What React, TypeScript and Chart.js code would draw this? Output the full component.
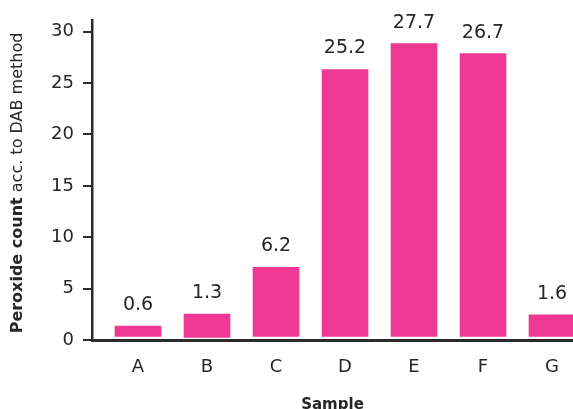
import React, { useEffect, useRef } from "react";
import { Chart, registerables } from "chart.js";

Chart.register(...registerables);

const categories = ["A", "B", "C", "D", "E", "F", "G"];
const barBases = [0.35, 0.25, 0.35, 0.35, 0.35, 0.35, 0.35];
const barTops = [1.35, 2.52, 7.06, 26.32, 28.84, 27.87, 2.45];
const valueLabels = ["0.6", "1.3", "6.2", "25.2", "27.7", "26.7", "1.6"];
const yTicks = [0, 5, 10, 15, 20, 25, 30];

const FONT = "'DejaVu Sans', Verdana, sans-serif";
const TEXT = "#262626";
const AXIS = "#2b2b2b";
const BAR = "#ee3893";

const labelPlugin = {
  id: "customText",
  afterDatasetsDraw(chart: any) {
    const ctx = chart.ctx;
    const meta = chart.getDatasetMeta(0);
    ctx.save();
    ctx.fillStyle = TEXT;
    ctx.font = `19px ${FONT}`;
    ctx.textAlign = "center";
    ctx.textBaseline = "middle";
    meta.data.forEach((el: any, i: number) => {
      ctx.fillText(valueLabels[i], el.x, el.y - 21);
    });
    ctx.restore();
  },
  afterDraw(chart: any) {
    const ctx = chart.ctx;
    ctx.save();
    ctx.fillStyle = TEXT;
    const bold = "Peroxide count";
    const normal = " acc. to DAB method";
    const fBold = `bold 16px ${FONT}`;
    const fNorm = `16px ${FONT}`;
    ctx.font = fBold;
    const wB = ctx.measureText(bold).width;
    ctx.font = fNorm;
    const wN = ctx.measureText(normal).width;
    const total = wB + wN;
    const cy = 183;
    ctx.translate(18, cy);
    ctx.rotate(-Math.PI / 2);
    ctx.textBaseline = "middle";
    ctx.textAlign = "left";
    ctx.font = fBold;
    ctx.fillText(bold, -total / 2, 0);
    ctx.font = fNorm;
    ctx.fillText(normal, -total / 2 + wB, 0);
    ctx.restore();
    ctx.save();
    ctx.fillStyle = TEXT;
    ctx.font = `bold 15px ${FONT}`;
    ctx.textAlign = "center";
    ctx.textBaseline = "alphabetic";
    const area = chart.chartArea;
    ctx.fillText("Sample", (area.left + area.right) / 2, 409);
    ctx.restore();
  },
};

export default function App() {
  const ref = useRef<HTMLCanvasElement | null>(null);
  useEffect(() => {
    if (!ref.current) return;
    const chart = new Chart(ref.current, {
      type: "bar",
      data: {
        datasets: [
          {
            data: categories.map((_, i) => ({ x: i, y: [barBases[i], barTops[i]] })) as any,
            backgroundColor: BAR,
            borderWidth: 0,
            barThickness: 46,
          },
        ],
      },
      options: {
        responsive: false,
        animation: false,
        devicePixelRatio: 1,
        layout: { padding: { top: 18, left: 0, right: 0, bottom: 0 } },
        plugins: { legend: { display: false }, tooltip: { enabled: false } },
        scales: {
          x: {
            type: "linear",
            offset: false,
            min: -0.667,
            max: 6.304,
            afterBuildTicks: (scale: any) => {
              scale.ticks = categories.map((_, i) => ({ value: i }));
            },
            afterFit: (scale: any) => {
              scale.height = 69;
              scale.paddingLeft = 0;
              scale.paddingRight = 0;
            },
            grid: { display: true, offset: false, drawOnChartArea: false, drawTicks: false },
            border: { display: true, color: AXIS, width: 3 },
            ticks: {
              padding: 17,
              color: TEXT,
              font: { family: FONT, size: 18 },
              maxRotation: 0,
              autoSkip: false,
              callback: (v: any) => categories[Math.round(Number(v))] ?? "",
            },
          },
          y: {
            type: "linear",
            min: 0,
            max: 31.16,
            afterBuildTicks: (scale: any) => {
              scale.ticks = yTicks.map((v) => ({ value: v }));
            },
            afterFit: (scale: any) => {
              scale.width = 92;
            },
            grid: {
              display: true,
              drawOnChartArea: false,
              drawTicks: true,
              tickLength: 9,
              color: AXIS,
              lineWidth: 2,
            },
            border: { display: true, color: AXIS, width: 2.5 },
            ticks: {
              padding: 9,
              color: TEXT,
              font: { family: FONT, size: 18 },
              includeBounds: false,
            },
          },
        },
      },
      plugins: [labelPlugin],
    });
    return () => chart.destroy();
  }, []);
  return (
    <div style={{ position: "fixed", left: 0, top: 0, width: 573, height: 409, background: "#fff" }}>
      <canvas ref={ref} width={573} height={409} style={{ display: "block", width: 573, height: 409 }} />
    </div>
  );
}
